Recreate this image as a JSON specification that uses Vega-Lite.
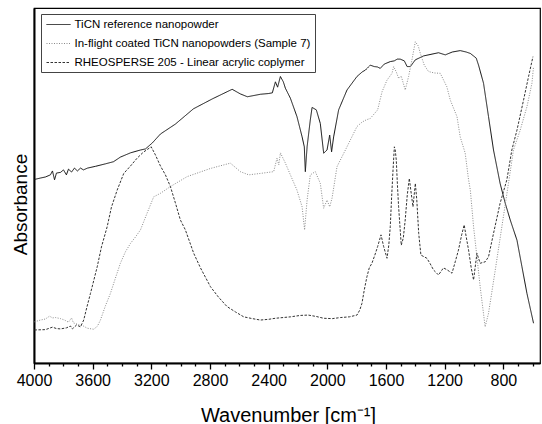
{
  "$schema": "https://vega.github.io/schema/vega-lite/v6.json",
  "width": 506,
  "height": 355,
  "autosize": {"type": "none"},
  "padding": {"left": 34, "top": 8, "right": 2, "bottom": 61},
  "background": "white",
  "config": {"font": "Liberation Sans", "view": {"stroke": "black", "strokeWidth": 1.2}},
  "data": {"values": [
    {"s":"TiCN reference nanopowder","x":3997,"y":51.7},{"s":"TiCN reference nanopowder","x":3956,"y":52.1},{"s":"TiCN reference nanopowder","x":3922,"y":52.4},{"s":"TiCN reference nanopowder","x":3888,"y":53.0},{"s":"TiCN reference nanopowder","x":3874,"y":54.1},{"s":"TiCN reference nanopowder","x":3860,"y":51.6},{"s":"TiCN reference nanopowder","x":3847,"y":53.5},{"s":"TiCN reference nanopowder","x":3819,"y":53.7},{"s":"TiCN reference nanopowder","x":3799,"y":54.4},{"s":"TiCN reference nanopowder","x":3779,"y":53.0},{"s":"TiCN reference nanopowder","x":3765,"y":54.6},{"s":"TiCN reference nanopowder","x":3744,"y":53.8},{"s":"TiCN reference nanopowder","x":3724,"y":54.9},{"s":"TiCN reference nanopowder","x":3704,"y":54.1},{"s":"TiCN reference nanopowder","x":3683,"y":54.9},{"s":"TiCN reference nanopowder","x":3663,"y":54.4},{"s":"TiCN reference nanopowder","x":3635,"y":54.9},{"s":"TiCN reference nanopowder","x":3581,"y":55.4},{"s":"TiCN reference nanopowder","x":3513,"y":56.1},{"s":"TiCN reference nanopowder","x":3458,"y":56.7},{"s":"TiCN reference nanopowder","x":3411,"y":58.0},{"s":"TiCN reference nanopowder","x":3342,"y":59.2},{"s":"TiCN reference nanopowder","x":3274,"y":60.0},{"s":"TiCN reference nanopowder","x":3240,"y":60.3},{"s":"TiCN reference nanopowder","x":3193,"y":62.0},{"s":"TiCN reference nanopowder","x":3138,"y":64.5},{"s":"TiCN reference nanopowder","x":3036,"y":67.3},{"s":"TiCN reference nanopowder","x":2913,"y":71.6},{"s":"TiCN reference nanopowder","x":2784,"y":74.4},{"s":"TiCN reference nanopowder","x":2649,"y":77.1},{"s":"TiCN reference nanopowder","x":2593,"y":75.8},{"s":"TiCN reference nanopowder","x":2545,"y":75.0},{"s":"TiCN reference nanopowder","x":2456,"y":75.7},{"s":"TiCN reference nanopowder","x":2402,"y":75.9},{"s":"TiCN reference nanopowder","x":2375,"y":76.1},{"s":"TiCN reference nanopowder","x":2354,"y":79.2},{"s":"TiCN reference nanopowder","x":2339,"y":77.7},{"s":"TiCN reference nanopowder","x":2320,"y":80.7},{"s":"TiCN reference nanopowder","x":2300,"y":79.2},{"s":"TiCN reference nanopowder","x":2286,"y":77.4},{"s":"TiCN reference nanopowder","x":2252,"y":74.6},{"s":"TiCN reference nanopowder","x":2207,"y":69.4},{"s":"TiCN reference nanopowder","x":2172,"y":63.7},{"s":"TiCN reference nanopowder","x":2157,"y":60.9},{"s":"TiCN reference nanopowder","x":2150,"y":53.9},{"s":"TiCN reference nanopowder","x":2138,"y":60.9},{"s":"TiCN reference nanopowder","x":2116,"y":68.5},{"s":"TiCN reference nanopowder","x":2104,"y":72.0},{"s":"TiCN reference nanopowder","x":2075,"y":71.3},{"s":"TiCN reference nanopowder","x":2048,"y":67.5},{"s":"TiCN reference nanopowder","x":2025,"y":59.1},{"s":"TiCN reference nanopowder","x":2002,"y":60.0},{"s":"TiCN reference nanopowder","x":1984,"y":64.2},{"s":"TiCN reference nanopowder","x":1971,"y":59.5},{"s":"TiCN reference nanopowder","x":1957,"y":63.7},{"s":"TiCN reference nanopowder","x":1923,"y":71.3},{"s":"TiCN reference nanopowder","x":1866,"y":76.9},{"s":"TiCN reference nanopowder","x":1798,"y":80.7},{"s":"TiCN reference nanopowder","x":1762,"y":82.0},{"s":"TiCN reference nanopowder","x":1741,"y":82.5},{"s":"TiCN reference nanopowder","x":1707,"y":83.9},{"s":"TiCN reference nanopowder","x":1680,"y":83.5},{"s":"TiCN reference nanopowder","x":1659,"y":83.4},{"s":"TiCN reference nanopowder","x":1639,"y":83.0},{"s":"TiCN reference nanopowder","x":1612,"y":84.2},{"s":"TiCN reference nanopowder","x":1571,"y":84.9},{"s":"TiCN reference nanopowder","x":1544,"y":85.1},{"s":"TiCN reference nanopowder","x":1523,"y":85.6},{"s":"TiCN reference nanopowder","x":1503,"y":85.6},{"s":"TiCN reference nanopowder","x":1475,"y":85.1},{"s":"TiCN reference nanopowder","x":1456,"y":83.5},{"s":"TiCN reference nanopowder","x":1434,"y":83.5},{"s":"TiCN reference nanopowder","x":1400,"y":85.4},{"s":"TiCN reference nanopowder","x":1344,"y":86.5},{"s":"TiCN reference nanopowder","x":1242,"y":87.4},{"s":"TiCN reference nanopowder","x":1196,"y":86.8},{"s":"TiCN reference nanopowder","x":1148,"y":87.6},{"s":"TiCN reference nanopowder","x":1094,"y":88.0},{"s":"TiCN reference nanopowder","x":1053,"y":87.6},{"s":"TiCN reference nanopowder","x":1025,"y":87.2},{"s":"TiCN reference nanopowder","x":985,"y":85.9},{"s":"TiCN reference nanopowder","x":969,"y":83.9},{"s":"TiCN reference nanopowder","x":935,"y":78.8},{"s":"TiCN reference nanopowder","x":901,"y":69.4},{"s":"TiCN reference nanopowder","x":867,"y":60.0},{"s":"TiCN reference nanopowder","x":822,"y":50.6},{"s":"TiCN reference nanopowder","x":787,"y":45.0},{"s":"TiCN reference nanopowder","x":753,"y":40.3},{"s":"TiCN reference nanopowder","x":707,"y":34.6},{"s":"TiCN reference nanopowder","x":673,"y":27.1},{"s":"TiCN reference nanopowder","x":639,"y":19.6},{"s":"TiCN reference nanopowder","x":594,"y":11.2},
    {"s":"In-flight coated TiCN nanopowders (Sample 7)","x":3997,"y":11.6},{"s":"In-flight coated TiCN nanopowders (Sample 7)","x":3956,"y":12.1},{"s":"In-flight coated TiCN nanopowders (Sample 7)","x":3922,"y":12.4},{"s":"In-flight coated TiCN nanopowders (Sample 7)","x":3894,"y":13.2},{"s":"In-flight coated TiCN nanopowders (Sample 7)","x":3874,"y":12.7},{"s":"In-flight coated TiCN nanopowders (Sample 7)","x":3853,"y":12.8},{"s":"In-flight coated TiCN nanopowders (Sample 7)","x":3819,"y":12.5},{"s":"In-flight coated TiCN nanopowders (Sample 7)","x":3792,"y":12.1},{"s":"In-flight coated TiCN nanopowders (Sample 7)","x":3765,"y":11.5},{"s":"In-flight coated TiCN nanopowders (Sample 7)","x":3744,"y":12.7},{"s":"In-flight coated TiCN nanopowders (Sample 7)","x":3731,"y":11.3},{"s":"In-flight coated TiCN nanopowders (Sample 7)","x":3697,"y":10.8},{"s":"In-flight coated TiCN nanopowders (Sample 7)","x":3663,"y":10.4},{"s":"In-flight coated TiCN nanopowders (Sample 7)","x":3637,"y":9.8},{"s":"In-flight coated TiCN nanopowders (Sample 7)","x":3593,"y":9.5},{"s":"In-flight coated TiCN nanopowders (Sample 7)","x":3567,"y":10.4},{"s":"In-flight coated TiCN nanopowders (Sample 7)","x":3547,"y":12.1},{"s":"In-flight coated TiCN nanopowders (Sample 7)","x":3513,"y":16.1},{"s":"In-flight coated TiCN nanopowders (Sample 7)","x":3479,"y":19.6},{"s":"In-flight coated TiCN nanopowders (Sample 7)","x":3445,"y":23.9},{"s":"In-flight coated TiCN nanopowders (Sample 7)","x":3411,"y":28.1},{"s":"In-flight coated TiCN nanopowders (Sample 7)","x":3377,"y":31.3},{"s":"In-flight coated TiCN nanopowders (Sample 7)","x":3342,"y":33.7},{"s":"In-flight coated TiCN nanopowders (Sample 7)","x":3308,"y":35.5},{"s":"In-flight coated TiCN nanopowders (Sample 7)","x":3274,"y":37.5},{"s":"In-flight coated TiCN nanopowders (Sample 7)","x":3229,"y":42.2},{"s":"In-flight coated TiCN nanopowders (Sample 7)","x":3184,"y":46.8},{"s":"In-flight coated TiCN nanopowders (Sample 7)","x":3138,"y":47.8},{"s":"In-flight coated TiCN nanopowders (Sample 7)","x":3070,"y":49.7},{"s":"In-flight coated TiCN nanopowders (Sample 7)","x":2956,"y":52.5},{"s":"In-flight coated TiCN nanopowders (Sample 7)","x":2797,"y":54.8},{"s":"In-flight coated TiCN nanopowders (Sample 7)","x":2661,"y":56.3},{"s":"In-flight coated TiCN nanopowders (Sample 7)","x":2593,"y":53.9},{"s":"In-flight coated TiCN nanopowders (Sample 7)","x":2536,"y":53.0},{"s":"In-flight coated TiCN nanopowders (Sample 7)","x":2457,"y":53.4},{"s":"In-flight coated TiCN nanopowders (Sample 7)","x":2366,"y":53.9},{"s":"In-flight coated TiCN nanopowders (Sample 7)","x":2343,"y":57.7},{"s":"In-flight coated TiCN nanopowders (Sample 7)","x":2331,"y":55.8},{"s":"In-flight coated TiCN nanopowders (Sample 7)","x":2320,"y":59.2},{"s":"In-flight coated TiCN nanopowders (Sample 7)","x":2286,"y":56.3},{"s":"In-flight coated TiCN nanopowders (Sample 7)","x":2252,"y":53.0},{"s":"In-flight coated TiCN nanopowders (Sample 7)","x":2207,"y":48.7},{"s":"In-flight coated TiCN nanopowders (Sample 7)","x":2172,"y":44.0},{"s":"In-flight coated TiCN nanopowders (Sample 7)","x":2155,"y":37.5},{"s":"In-flight coated TiCN nanopowders (Sample 7)","x":2138,"y":45.9},{"s":"In-flight coated TiCN nanopowders (Sample 7)","x":2116,"y":53.0},{"s":"In-flight coated TiCN nanopowders (Sample 7)","x":2082,"y":53.9},{"s":"In-flight coated TiCN nanopowders (Sample 7)","x":2048,"y":50.6},{"s":"In-flight coated TiCN nanopowders (Sample 7)","x":2025,"y":43.6},{"s":"In-flight coated TiCN nanopowders (Sample 7)","x":2002,"y":45.9},{"s":"In-flight coated TiCN nanopowders (Sample 7)","x":1984,"y":44.0},{"s":"In-flight coated TiCN nanopowders (Sample 7)","x":1968,"y":46.4},{"s":"In-flight coated TiCN nanopowders (Sample 7)","x":1934,"y":55.3},{"s":"In-flight coated TiCN nanopowders (Sample 7)","x":1866,"y":60.9},{"s":"In-flight coated TiCN nanopowders (Sample 7)","x":1798,"y":66.6},{"s":"In-flight coated TiCN nanopowders (Sample 7)","x":1762,"y":67.9},{"s":"In-flight coated TiCN nanopowders (Sample 7)","x":1734,"y":68.5},{"s":"In-flight coated TiCN nanopowders (Sample 7)","x":1707,"y":68.9},{"s":"In-flight coated TiCN nanopowders (Sample 7)","x":1657,"y":71.3},{"s":"In-flight coated TiCN nanopowders (Sample 7)","x":1627,"y":76.4},{"s":"In-flight coated TiCN nanopowders (Sample 7)","x":1593,"y":79.7},{"s":"In-flight coated TiCN nanopowders (Sample 7)","x":1559,"y":81.6},{"s":"In-flight coated TiCN nanopowders (Sample 7)","x":1548,"y":83.5},{"s":"In-flight coated TiCN nanopowders (Sample 7)","x":1530,"y":82.0},{"s":"In-flight coated TiCN nanopowders (Sample 7)","x":1514,"y":80.2},{"s":"In-flight coated TiCN nanopowders (Sample 7)","x":1496,"y":80.8},{"s":"In-flight coated TiCN nanopowders (Sample 7)","x":1469,"y":76.9},{"s":"In-flight coated TiCN nanopowders (Sample 7)","x":1446,"y":80.7},{"s":"In-flight coated TiCN nanopowders (Sample 7)","x":1423,"y":85.4},{"s":"In-flight coated TiCN nanopowders (Sample 7)","x":1400,"y":90.5},{"s":"In-flight coated TiCN nanopowders (Sample 7)","x":1380,"y":89.3},{"s":"In-flight coated TiCN nanopowders (Sample 7)","x":1366,"y":87.2},{"s":"In-flight coated TiCN nanopowders (Sample 7)","x":1339,"y":83.9},{"s":"In-flight coated TiCN nanopowders (Sample 7)","x":1310,"y":82.1},{"s":"In-flight coated TiCN nanopowders (Sample 7)","x":1271,"y":81.7},{"s":"In-flight coated TiCN nanopowders (Sample 7)","x":1230,"y":81.6},{"s":"In-flight coated TiCN nanopowders (Sample 7)","x":1185,"y":77.8},{"s":"In-flight coated TiCN nanopowders (Sample 7)","x":1162,"y":74.1},{"s":"In-flight coated TiCN nanopowders (Sample 7)","x":1116,"y":69.4},{"s":"In-flight coated TiCN nanopowders (Sample 7)","x":1094,"y":63.7},{"s":"In-flight coated TiCN nanopowders (Sample 7)","x":1060,"y":59.1},{"s":"In-flight coated TiCN nanopowders (Sample 7)","x":1037,"y":51.6},{"s":"In-flight coated TiCN nanopowders (Sample 7)","x":1025,"y":48.7},{"s":"In-flight coated TiCN nanopowders (Sample 7)","x":1003,"y":38.4},{"s":"In-flight coated TiCN nanopowders (Sample 7)","x":980,"y":29.9},{"s":"In-flight coated TiCN nanopowders (Sample 7)","x":958,"y":21.5},{"s":"In-flight coated TiCN nanopowders (Sample 7)","x":924,"y":10.2},{"s":"In-flight coated TiCN nanopowders (Sample 7)","x":901,"y":14.0},{"s":"In-flight coated TiCN nanopowders (Sample 7)","x":855,"y":26.2},{"s":"In-flight coated TiCN nanopowders (Sample 7)","x":810,"y":38.4},{"s":"In-flight coated TiCN nanopowders (Sample 7)","x":765,"y":50.6},{"s":"In-flight coated TiCN nanopowders (Sample 7)","x":731,"y":60.0},{"s":"In-flight coated TiCN nanopowders (Sample 7)","x":685,"y":65.6},{"s":"In-flight coated TiCN nanopowders (Sample 7)","x":639,"y":72.2},{"s":"In-flight coated TiCN nanopowders (Sample 7)","x":605,"y":78.8},{"s":"In-flight coated TiCN nanopowders (Sample 7)","x":594,"y":83.5},
    {"s":"RHEOSPERSE 205 - Linear acrylic coplymer","x":3997,"y":9.3},{"s":"RHEOSPERSE 205 - Linear acrylic coplymer","x":3922,"y":9.4},{"s":"RHEOSPERSE 205 - Linear acrylic coplymer","x":3874,"y":10.1},{"s":"RHEOSPERSE 205 - Linear acrylic coplymer","x":3847,"y":9.7},{"s":"RHEOSPERSE 205 - Linear acrylic coplymer","x":3819,"y":9.6},{"s":"RHEOSPERSE 205 - Linear acrylic coplymer","x":3779,"y":9.9},{"s":"RHEOSPERSE 205 - Linear acrylic coplymer","x":3751,"y":10.4},{"s":"RHEOSPERSE 205 - Linear acrylic coplymer","x":3738,"y":9.6},{"s":"RHEOSPERSE 205 - Linear acrylic coplymer","x":3710,"y":10.7},{"s":"RHEOSPERSE 205 - Linear acrylic coplymer","x":3683,"y":10.2},{"s":"RHEOSPERSE 205 - Linear acrylic coplymer","x":3661,"y":12.1},{"s":"RHEOSPERSE 205 - Linear acrylic coplymer","x":3639,"y":15.8},{"s":"RHEOSPERSE 205 - Linear acrylic coplymer","x":3615,"y":19.6},{"s":"RHEOSPERSE 205 - Linear acrylic coplymer","x":3569,"y":27.1},{"s":"RHEOSPERSE 205 - Linear acrylic coplymer","x":3540,"y":32.7},{"s":"RHEOSPERSE 205 - Linear acrylic coplymer","x":3501,"y":38.4},{"s":"RHEOSPERSE 205 - Linear acrylic coplymer","x":3472,"y":43.9},{"s":"RHEOSPERSE 205 - Linear acrylic coplymer","x":3433,"y":48.7},{"s":"RHEOSPERSE 205 - Linear acrylic coplymer","x":3388,"y":53.4},{"s":"RHEOSPERSE 205 - Linear acrylic coplymer","x":3342,"y":55.5},{"s":"RHEOSPERSE 205 - Linear acrylic coplymer","x":3297,"y":57.7},{"s":"RHEOSPERSE 205 - Linear acrylic coplymer","x":3254,"y":59.4},{"s":"RHEOSPERSE 205 - Linear acrylic coplymer","x":3201,"y":60.9},{"s":"RHEOSPERSE 205 - Linear acrylic coplymer","x":3172,"y":58.6},{"s":"RHEOSPERSE 205 - Linear acrylic coplymer","x":3138,"y":55.5},{"s":"RHEOSPERSE 205 - Linear acrylic coplymer","x":3104,"y":53.0},{"s":"RHEOSPERSE 205 - Linear acrylic coplymer","x":3070,"y":49.7},{"s":"RHEOSPERSE 205 - Linear acrylic coplymer","x":3036,"y":45.1},{"s":"RHEOSPERSE 205 - Linear acrylic coplymer","x":3002,"y":40.3},{"s":"RHEOSPERSE 205 - Linear acrylic coplymer","x":2968,"y":37.5},{"s":"RHEOSPERSE 205 - Linear acrylic coplymer","x":2911,"y":30.9},{"s":"RHEOSPERSE 205 - Linear acrylic coplymer","x":2865,"y":26.8},{"s":"RHEOSPERSE 205 - Linear acrylic coplymer","x":2797,"y":21.5},{"s":"RHEOSPERSE 205 - Linear acrylic coplymer","x":2743,"y":18.6},{"s":"RHEOSPERSE 205 - Linear acrylic coplymer","x":2684,"y":15.9},{"s":"RHEOSPERSE 205 - Linear acrylic coplymer","x":2627,"y":14.4},{"s":"RHEOSPERSE 205 - Linear acrylic coplymer","x":2570,"y":13.0},{"s":"RHEOSPERSE 205 - Linear acrylic coplymer","x":2511,"y":12.5},{"s":"RHEOSPERSE 205 - Linear acrylic coplymer","x":2457,"y":12.1},{"s":"RHEOSPERSE 205 - Linear acrylic coplymer","x":2402,"y":12.3},{"s":"RHEOSPERSE 205 - Linear acrylic coplymer","x":2354,"y":12.6},{"s":"RHEOSPERSE 205 - Linear acrylic coplymer","x":2252,"y":13.0},{"s":"RHEOSPERSE 205 - Linear acrylic coplymer","x":2184,"y":13.4},{"s":"RHEOSPERSE 205 - Linear acrylic coplymer","x":2130,"y":13.5},{"s":"RHEOSPERSE 205 - Linear acrylic coplymer","x":2075,"y":13.1},{"s":"RHEOSPERSE 205 - Linear acrylic coplymer","x":2025,"y":12.6},{"s":"RHEOSPERSE 205 - Linear acrylic coplymer","x":1966,"y":12.5},{"s":"RHEOSPERSE 205 - Linear acrylic coplymer","x":1911,"y":12.8},{"s":"RHEOSPERSE 205 - Linear acrylic coplymer","x":1850,"y":13.0},{"s":"RHEOSPERSE 205 - Linear acrylic coplymer","x":1798,"y":13.5},{"s":"RHEOSPERSE 205 - Linear acrylic coplymer","x":1779,"y":14.9},{"s":"RHEOSPERSE 205 - Linear acrylic coplymer","x":1764,"y":16.8},{"s":"RHEOSPERSE 205 - Linear acrylic coplymer","x":1748,"y":20.6},{"s":"RHEOSPERSE 205 - Linear acrylic coplymer","x":1730,"y":24.3},{"s":"RHEOSPERSE 205 - Linear acrylic coplymer","x":1714,"y":26.8},{"s":"RHEOSPERSE 205 - Linear acrylic coplymer","x":1696,"y":28.1},{"s":"RHEOSPERSE 205 - Linear acrylic coplymer","x":1676,"y":30.4},{"s":"RHEOSPERSE 205 - Linear acrylic coplymer","x":1657,"y":32.8},{"s":"RHEOSPERSE 205 - Linear acrylic coplymer","x":1634,"y":36.1},{"s":"RHEOSPERSE 205 - Linear acrylic coplymer","x":1616,"y":32.8},{"s":"RHEOSPERSE 205 - Linear acrylic coplymer","x":1593,"y":29.5},{"s":"RHEOSPERSE 205 - Linear acrylic coplymer","x":1581,"y":33.2},{"s":"RHEOSPERSE 205 - Linear acrylic coplymer","x":1571,"y":38.4},{"s":"RHEOSPERSE 205 - Linear acrylic coplymer","x":1561,"y":47.3},{"s":"RHEOSPERSE 205 - Linear acrylic coplymer","x":1552,"y":54.4},{"s":"RHEOSPERSE 205 - Linear acrylic coplymer","x":1543,"y":60.9},{"s":"RHEOSPERSE 205 - Linear acrylic coplymer","x":1537,"y":60.0},{"s":"RHEOSPERSE 205 - Linear acrylic coplymer","x":1530,"y":57.2},{"s":"RHEOSPERSE 205 - Linear acrylic coplymer","x":1522,"y":50.1},{"s":"RHEOSPERSE 205 - Linear acrylic coplymer","x":1514,"y":44.0},{"s":"RHEOSPERSE 205 - Linear acrylic coplymer","x":1496,"y":33.2},{"s":"RHEOSPERSE 205 - Linear acrylic coplymer","x":1482,"y":35.2},{"s":"RHEOSPERSE 205 - Linear acrylic coplymer","x":1469,"y":40.3},{"s":"RHEOSPERSE 205 - Linear acrylic coplymer","x":1455,"y":47.3},{"s":"RHEOSPERSE 205 - Linear acrylic coplymer","x":1441,"y":52.0},{"s":"RHEOSPERSE 205 - Linear acrylic coplymer","x":1431,"y":48.7},{"s":"RHEOSPERSE 205 - Linear acrylic coplymer","x":1416,"y":44.0},{"s":"RHEOSPERSE 205 - Linear acrylic coplymer","x":1400,"y":50.6},{"s":"RHEOSPERSE 205 - Linear acrylic coplymer","x":1390,"y":45.9},{"s":"RHEOSPERSE 205 - Linear acrylic coplymer","x":1377,"y":36.5},{"s":"RHEOSPERSE 205 - Linear acrylic coplymer","x":1362,"y":30.4},{"s":"RHEOSPERSE 205 - Linear acrylic coplymer","x":1321,"y":29.5},{"s":"RHEOSPERSE 205 - Linear acrylic coplymer","x":1298,"y":27.9},{"s":"RHEOSPERSE 205 - Linear acrylic coplymer","x":1276,"y":26.2},{"s":"RHEOSPERSE 205 - Linear acrylic coplymer","x":1242,"y":24.8},{"s":"RHEOSPERSE 205 - Linear acrylic coplymer","x":1208,"y":26.8},{"s":"RHEOSPERSE 205 - Linear acrylic coplymer","x":1182,"y":26.2},{"s":"RHEOSPERSE 205 - Linear acrylic coplymer","x":1150,"y":25.3},{"s":"RHEOSPERSE 205 - Linear acrylic coplymer","x":1128,"y":28.5},{"s":"RHEOSPERSE 205 - Linear acrylic coplymer","x":1106,"y":31.8},{"s":"RHEOSPERSE 205 - Linear acrylic coplymer","x":1084,"y":36.1},{"s":"RHEOSPERSE 205 - Linear acrylic coplymer","x":1067,"y":38.9},{"s":"RHEOSPERSE 205 - Linear acrylic coplymer","x":1053,"y":35.5},{"s":"RHEOSPERSE 205 - Linear acrylic coplymer","x":1037,"y":31.8},{"s":"RHEOSPERSE 205 - Linear acrylic coplymer","x":1019,"y":26.8},{"s":"RHEOSPERSE 205 - Linear acrylic coplymer","x":1003,"y":23.4},{"s":"RHEOSPERSE 205 - Linear acrylic coplymer","x":980,"y":30.9},{"s":"RHEOSPERSE 205 - Linear acrylic coplymer","x":958,"y":28.1},{"s":"RHEOSPERSE 205 - Linear acrylic coplymer","x":924,"y":28.5},{"s":"RHEOSPERSE 205 - Linear acrylic coplymer","x":901,"y":29.9},{"s":"RHEOSPERSE 205 - Linear acrylic coplymer","x":867,"y":36.5},{"s":"RHEOSPERSE 205 - Linear acrylic coplymer","x":822,"y":45.0},{"s":"RHEOSPERSE 205 - Linear acrylic coplymer","x":776,"y":51.6},{"s":"RHEOSPERSE 205 - Linear acrylic coplymer","x":742,"y":60.0},{"s":"RHEOSPERSE 205 - Linear acrylic coplymer","x":707,"y":65.6},{"s":"RHEOSPERSE 205 - Linear acrylic coplymer","x":662,"y":74.1},{"s":"RHEOSPERSE 205 - Linear acrylic coplymer","x":628,"y":80.7},{"s":"RHEOSPERSE 205 - Linear acrylic coplymer","x":598,"y":86.3}
  ]},
  "mark": {"type": "line", "strokeWidth": 1, "interpolate": "linear"},
  "encoding": {
    "x": {
      "field": "x", "type": "quantitative",
      "scale": {"domain": [550, 4000], "reverse": true, "nice": false, "zero": false},
      "axis": {
        "values": [4000,3900,3800,3700,3600,3500,3400,3300,3200,3100,3000,2900,2800,2700,2600,2500,2400,2300,2200,2100,2000,1900,1800,1700,1600,1500,1400,1300,1200,1100,1000,900,800,700,600],
        "labelExpr": "datum.value % 400 === 0 ? format(datum.value, 'd') : ''",
        "tickSize": {"condition": {"test": "datum.value % 400 === 0", "value": 6}, "value": 3},
        "tickColor": "black", "tickWidth": 1.3,
        "domainColor": "black", "domainWidth": 2,
        "labelFontSize": 16, "labelColor": "black", "labelPadding": 3,
        "labelOverlap": false, "labelFlush": false, "grid": false,
        "title": "Wavenumber [cm⁻¹]", "titleFontSize": 20, "titleFontWeight": "normal", "titleColor": "black",
        "titleX": 254, "titleY": 58, "titleBaseline": "alphabetic", "titleAlign": "center"
      }
    },
    "y": {
      "field": "y", "type": "quantitative",
      "scale": {"domain": [0, 100], "nice": false, "zero": false},
      "axis": {
        "labels": false, "ticks": false, "grid": false,
        "domainColor": "black", "domainWidth": 2,
        "title": "Absorbance", "titleFontSize": 19, "titleFontWeight": "normal", "titleColor": "black",
        "titleX": -14, "titleY": 196, "titleBaseline": "middle", "titleAlign": "center", "titleAngle": -90
      }
    },
    "color": {
      "field": "s", "type": "nominal",
      "scale": {"domain": ["TiCN reference nanopowder", "In-flight coated TiCN nanopowders (Sample 7)", "RHEOSPERSE 205 - Linear acrylic coplymer"], "range": ["#111111", "#8a8a8a", "#333333"]},
      "legend": {"title": null, "orient": "none", "legendX": 7, "legendY": 6, "direction": "vertical", "symbolType": "M-0.833,0L3.167,0", "symbolSize": 144, "symbolStrokeWidth": 1, "labelFontSize": 11.5, "labelColor": "black", "labelFont": "Liberation Sans", "rowPadding": 7, "padding": 4, "strokeColor": "#444444", "fillColor": "white", "labelOffset": 16.5, "labelLimit": 400}
    },
    "strokeDash": {
      "field": "s", "type": "nominal",
      "scale": {"domain": ["TiCN reference nanopowder", "In-flight coated TiCN nanopowders (Sample 7)", "RHEOSPERSE 205 - Linear acrylic coplymer"], "range": [[1, 0], [1, 1.5], [2.5, 1.5]]},
      "legend": {"title": null, "orient": "none", "legendX": 7, "legendY": 6, "direction": "vertical", "symbolType": "M-0.833,0L3.167,0", "symbolSize": 144, "symbolStrokeWidth": 1, "labelFontSize": 11.5, "labelColor": "black", "labelFont": "Liberation Sans", "rowPadding": 7, "padding": 4, "strokeColor": "#444444", "fillColor": "white", "labelOffset": 16.5, "labelLimit": 400}
    }
  }
}
